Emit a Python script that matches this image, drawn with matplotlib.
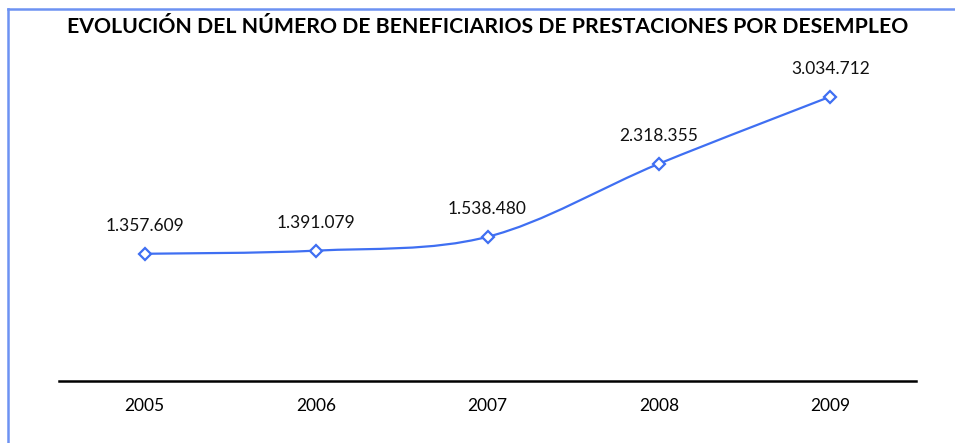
import matplotlib
matplotlib.use("Agg")
from matplotlib import pyplot as plt
from matplotlib.path import Path
from matplotlib.patches import PathPatch

years = ["2005", "2006", "2007", "2008", "2009"]
beneficiarios = [1357609, 1391079, 1538480, 2318355, 3034712]
etiquetas = ["1.357.609", "1.391.079", "1.538.480", "2.318.355", "3.034.712"]

azul = "#3f6ff2"
plt.rcParams["font.family"] = ["Lato", "DejaVu Sans"]

fig = plt.figure(figsize=(9.55, 4.43), dpi=100)
ax = fig.add_axes([59 / 955, 1 - 381 / 443, (916 - 59) / 955, (381 - 53) / 443])

x = list(range(len(years)))
y = beneficiarios

# smoothed line (Catmull-Rom as bezier segments, like the spreadsheet "smooth line")
verts = [(x[0], y[0])]
codes = [Path.MOVETO]
n = len(x)
for i in range(n - 1):
    x0, y0 = x[max(i - 1, 0)], y[max(i - 1, 0)]
    x1, y1 = x[i], y[i]
    x2, y2 = x[i + 1], y[i + 1]
    x3, y3 = x[min(i + 2, n - 1)], y[min(i + 2, n - 1)]
    c1 = (x1 + (x2 - x0) / 6, y1 + (y2 - y0) / 6)
    c2 = (x2 - (x3 - x1) / 6, y2 - (y3 - y1) / 6)
    verts += [c1, c2, (x2, y2)]
    codes += [Path.CURVE4, Path.CURVE4, Path.CURVE4]
ax.add_patch(PathPatch(Path(verts, codes), facecolor="none", edgecolor=azul, lw=1.6, zorder=2))

ax.plot(x, y, linestyle="none", marker="D", markersize=6.5, markerfacecolor="white",
        markeredgecolor=azul, markeredgewidth=1.6, zorder=3)

for xi, yi, lab in zip(x, y, etiquetas):
    ax.annotate(lab, (xi, yi), xytext=(0, 14), textcoords="offset points",
                ha="center", va="bottom", fontsize=12.5, color="#111111")

ax.set_xlim(-0.5, n - 0.5)
ax.set_ylim(0, 3500000)
ax.set_xticks(x)
ax.set_xticklabels(years, fontsize=12.5)
ax.tick_params(axis="x", length=0, pad=12)
ax.set_yticks([])
for s in ["left", "right", "top"]:
    ax.spines[s].set_visible(False)
ax.spines["bottom"].set_linewidth(1.8)
ax.spines["bottom"].set_color("black")

fig.text(488 / 955, 1 - 27 / 443, "EVOLUCIÓN DEL NÚMERO DE BENEFICIARIOS DE PRESTACIONES POR DESEMPLEO",
         ha="center", va="center", fontsize=15.3, fontweight="bold")

# frame of the chart area
fig.add_artist(plt.Line2D([8 / 955, 8 / 955], [0, 1 - 9 / 443], color="#6d92f2", lw=1.8))
fig.add_artist(plt.Line2D([8 / 955, 1], [1 - 9 / 443, 1 - 9 / 443], color="#6d92f2", lw=1.8))

fig.savefig("out.png", dpi=100)
